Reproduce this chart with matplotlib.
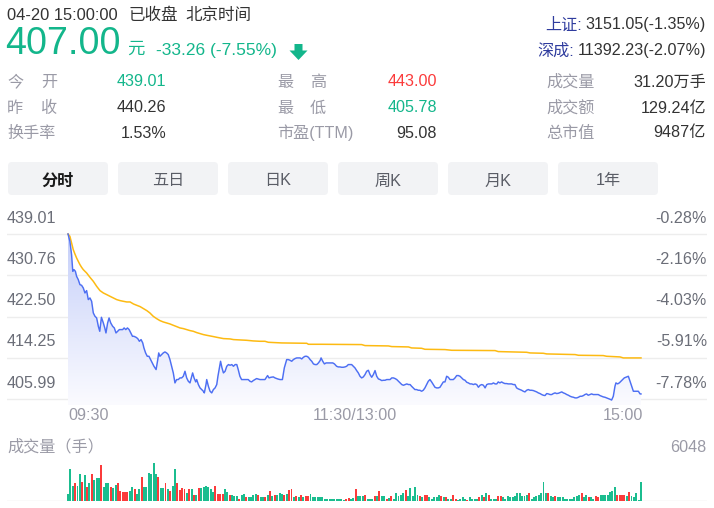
import numpy as np
import matplotlib
matplotlib.use('Agg')
import matplotlib.pyplot as plt
from matplotlib.patches import FancyBboxPatch, Polygon, PathPatch
from matplotlib.path import Path
from matplotlib.transforms import blended_transform_factory
from matplotlib.colors import LinearSegmentedColormap

plt.rcParams['font.family'] = ['Liberation Sans', 'Noto Sans CJK SC', 'DejaVu Sans']

# ---------------- data ----------------
prev_close = 440.26
last_price = '407.00'
change_text = '-33.26 (-7.55%)'
header_time = '04-20 15:00:00'
header_state = '已收盘'
header_zone = '北京时间'
index_names = ['上证:', '深成:']
index_values = ['3151.05(-1.35%)', '11392.23(-2.07%)']
left_labels = [('今', '开'), ('昨', '收'), ('换手率',)]
left_values = ['439.01', '440.26', '1.53%']
mid_labels = [('最', '高'), ('最', '低'), ('市盈(TTM)',)]
mid_values = ['443.00', '405.78', '95.08']
right_labels = ['成交量', '成交额', '总市值']
right_values = ['31.20万手', '129.24亿', '9487亿']
buttons = ['分时', '五日', '日K', '周K', '月K', '1年']

price_ticks = [439.01, 430.76, 422.50, 414.25, 405.99]
time_labels = ['09:30', '11:30/13:00', '15:00']
time_label_minutes = [0, 120, 240]
volume_title = '成交量（手）'
volume_max = 6048

price_minutes = [
    0, 0.8, 1.5, 2.0, 2.5, 3.1, 3.6, 4.3, 5.0, 5.7,
    6.4, 7.1, 7.8, 8.5, 9.2, 9.9, 10.6, 11.3, 12.0, 12.7,
    13.3, 14.0, 14.8, 15.4, 15.9, 16.6, 17.2, 17.9, 18.7, 19.4,
    20.1, 20.8, 21.5, 22.2, 22.9, 23.5, 24.2, 24.9, 25.6, 26.3,
    27.0, 27.6, 28.5, 29.2, 29.9, 30.6, 31.3, 31.8, 32.5, 33.2,
    33.9, 34.6, 35.3, 36.0, 36.9, 37.6, 38.0, 38.5, 39.2, 39.9,
    40.6, 41.3, 42.0, 42.7, 43.4, 44.1, 44.8, 45.5, 46.2, 46.9,
    47.6, 48.3, 49.0, 49.7, 50.4, 51.1, 51.8, 52.2, 52.8, 53.5,
    53.9, 54.6, 55.3, 56.0, 56.7, 57.1, 57.8, 58.1, 58.8, 59.5,
    60.2, 60.9, 61.6, 62.3, 62.8, 63.4, 63.9, 64.5, 65.1, 65.8,
    66.5, 67.2, 67.9, 68.6, 69.3, 70.0, 70.7, 71.3, 72.0, 72.7,
    74.1, 75.5, 76.2, 76.9, 77.6, 78.3, 79.0, 80.4,
    81.1, 82.5, 83.6, 84.2, 85.0, 86.0, 86.7, 87.8, 88.8, 89.8,
    90.6, 91.6, 92.3, 93.0, 93.7, 94.4, 95.1, 95.8, 96.5, 97.2,
    97.9, 98.6, 99.3, 100.0, 100.7, 101.4, 102.1, 102.8, 103.5, 104.2,
    104.9, 105.6, 106.0, 106.7, 107.4, 108.1, 108.8, 109.5, 110.2, 110.9,
    111.6, 112.5, 113.2, 113.9, 114.6, 115.3, 116.0, 116.7, 117.4, 118.1,
    118.8, 119.5, 120.2, 120.9, 121.6, 122.3, 123.0, 123.7, 124.4, 125.1,
    125.8, 126.5, 127.2, 127.9, 128.6, 129.3, 130.0, 130.7, 131.4, 132.1,
    132.8, 133.5, 134.2, 134.9, 135.6, 136.3, 137.0, 137.7, 138.4, 139.1,
    139.8, 140.5, 141.2, 141.9, 142.6, 143.3, 143.9, 144.6, 145.3, 146.0,
    146.7, 147.4, 148.1, 148.8, 149.5, 150.2, 150.9, 151.6, 152.3, 153.0,
    153.7, 154.4, 155.1, 155.8, 156.5, 157.2, 157.9, 158.6, 159.3, 160.0,
    160.7, 161.4,
    162.1, 162.8, 163.5, 164.2, 164.9, 165.6, 166.3, 167.0, 167.7, 168.4,
    169.1, 169.8, 170.5, 171.2, 171.9, 172.6, 173.3, 174.0, 174.7, 175.4,
    176.1, 176.8, 177.5, 178.2, 178.9, 179.6, 180.2, 180.9, 181.6, 182.3,
    183.0, 183.7, 184.4, 185.1, 185.8, 186.5, 187.2, 187.9, 188.6, 189.3,
    190.0, 190.7, 191.4, 192.1, 192.8, 193.5, 194.2, 194.9, 195.6, 196.3,
    197.0, 197.7, 198.4, 199.1, 199.8, 200.5, 201.2, 201.9, 202.6, 203.3,
    204.0, 204.7, 205.4, 206.1, 206.8, 207.5, 208.2, 208.9, 209.6, 210.3,
    211.0, 211.7, 212.4, 213.1, 213.8, 214.5, 215.2, 215.9, 216.5, 217.2,
    217.9, 218.6, 219.3, 220.0, 220.7, 221.4, 222.1, 222.8, 223.5, 224.2,
    224.9, 225.6, 226.3, 227.0, 227.7, 228.4, 229.1, 229.5, 230.2, 230.9,
    231.6, 232.3, 233.0, 234.0, 234.7, 235.4, 236.1, 236.8, 237.5, 238.2,
    238.9, 239.6, 240.0]

price_values = [
    439.01, 437.54, 434.88, 431.54, 431.88, 431.54, 430.54, 429.88, 428.88, 428.74,
    428.21, 427.21, 427.68, 425.88, 426.21, 425.54, 423.21, 422.54, 422.21, 420.54,
    419.54, 422.34, 421.21, 420.21, 419.21, 421.21, 422.21, 421.21, 420.54, 420.21,
    419.21, 419.54, 419.88, 419.88, 419.88, 420.21, 419.88, 420.21, 419.88, 419.21,
    418.54, 418.54, 418.34, 418.08, 417.54, 417.88, 417.21, 416.21, 415.21, 414.54,
    414.54, 413.88, 413.21, 412.54, 411.88, 413.88, 415.21, 414.54, 414.88, 415.21,
    415.41, 415.21, 414.88, 413.88, 412.54, 411.21, 409.21, 409.88, 409.88, 410.21,
    410.21, 410.54, 411.54, 410.21, 409.54, 409.21, 410.54, 411.21, 410.21, 409.41,
    409.88, 408.88, 408.21, 407.88, 407.54, 407.21, 408.88, 409.88, 408.54, 407.54,
    407.21, 407.88, 408.21, 408.88, 410.54, 412.21, 413.54, 412.21, 411.21, 411.54,
    412.54, 412.88, 412.74, 412.88, 412.54, 412.88, 412.88, 411.88, 410.54, 409.88,
    409.88, 409.88, 409.54, 409.41, 409.68, 409.88, 410.08, 409.88,
    409.88, 409.88, 410.68, 410.21, 410.34, 410.41, 410.21, 410.01, 409.88, 409.88,
    412.21, 413.88, 413.88, 413.74, 413.54, 413.88, 414.08, 414.21, 414.21, 414.21,
    414.01, 414.34, 414.54, 414.54, 414.34, 413.88, 413.54, 413.01, 412.88, 412.88,
    413.21, 413.68, 414.21, 413.54, 413.01, 413.21, 413.21, 413.21, 413.21, 413.21,
    413.01, 412.54, 412.41, 412.41, 412.34, 412.34, 412.41, 412.54, 412.88, 412.88,
    412.88, 412.54, 412.21, 411.68, 411.21, 410.54, 410.21, 410.41, 410.88, 411.54,
    411.74, 410.88, 410.34, 410.88, 411.68, 410.54, 410.01, 409.88, 409.68, 409.74,
    409.74, 409.88, 409.88, 409.88, 410.21, 410.21, 410.08, 409.88, 409.54, 409.21,
    408.88, 408.74, 408.88, 409.01, 408.88, 408.88, 408.54, 408.21, 407.88, 407.88,
    407.74, 407.74, 407.54, 407.74, 408.21, 408.88, 409.54, 409.88, 409.41, 408.88,
    408.34, 408.21, 408.21, 408.34, 408.88, 409.41, 409.41, 410.54, 410.34, 409.88,
    409.88, 409.88,
    410.21, 410.68, 410.68, 410.54, 410.21, 409.88, 409.74, 409.34, 409.21, 409.01,
    409.01, 408.88, 409.01, 408.88, 408.34, 408.74, 408.88, 408.74, 408.21, 408.88,
    409.01, 409.01, 409.01, 409.21, 409.01, 409.01, 409.41, 409.21, 409.41, 409.21,
    409.08, 409.08, 409.01, 409.01, 409.01, 408.88, 408.88, 408.21, 408.01, 407.88,
    407.74, 407.54, 407.41, 407.74, 407.88, 407.74, 407.74, 407.68, 407.54, 407.41,
    407.21, 407.08, 406.88, 406.74, 406.68, 407.08, 407.01, 406.88, 406.88, 407.08,
    407.21, 407.08, 407.14, 407.28, 407.41, 407.21, 407.08, 406.88, 406.74, 406.54,
    406.41, 406.34, 406.21, 406.21, 406.34, 406.54, 406.54, 406.68, 406.88, 407.01,
    406.74, 406.88, 407.01, 406.88, 406.88, 406.88, 406.88, 406.68, 406.54, 406.41,
    406.34, 406.21, 406.08, 405.94, 405.78, 406.54, 408.54, 409.21, 409.01, 409.21,
    409.54, 409.88, 410.21, 410.41, 410.54, 409.54, 408.54, 407.54, 407.54, 407.54,
    407.54, 407.01, 407.00]

avg_minutes = [
    0, 0.8, 1.5, 2.2, 2.9, 3.6, 4.3, 5.0, 5.7, 6.4,
    7.1, 7.8, 9.2, 10.6, 12.0, 13.4, 14.8, 16.2, 17.6, 19.0,
    20.4, 21.8, 23.2, 24.6, 26.0, 27.4, 28.8, 30.2, 31.6, 33.0,
    34.3, 35.7, 37.1, 38.5, 39.9, 41.3, 42.7, 44.1, 45.5, 46.9,
    48.3, 49.7, 51.1, 52.5, 53.9, 55.3, 56.7, 58.1, 59.5, 60.9,
    62.3, 63.7, 65.1, 67.9, 69.3, 72.0, 74.8, 77.6, 80.4, 82.5,
    83.9, 89.5, 100.0, 100.7, 106.3, 123.0, 124.4, 134.2, 135.6, 142.6,
    143.9, 148.1, 149.5, 157.9, 160.7, 178.9, 180.2, 192.1, 193.5, 199.1,
    200.5, 212.4, 213.8, 224.2, 225.6, 231.2, 232.6, 240.0]

avg_values = [
    439.01, 438.54, 437.21, 435.88, 435.01, 434.21, 433.54, 432.88, 432.34, 431.88,
    431.54, 431.21, 430.34, 429.54, 428.54, 427.68, 427.21, 426.88, 426.54, 426.21,
    425.88, 425.68, 425.54, 425.41, 425.41, 425.01, 424.74, 424.48, 424.08, 423.68,
    423.21, 422.54, 422.08, 421.68, 421.41, 421.21, 421.01, 420.74, 420.48, 420.21,
    420.08, 419.88, 419.68, 419.54, 419.28, 419.08, 418.88, 418.74, 418.61, 418.48,
    418.34, 418.21, 418.08, 418.01, 417.88, 417.81, 417.74, 417.61, 417.54, 417.54,
    417.34, 417.21, 417.14, 416.94, 416.94, 416.88, 416.68, 416.61, 416.48, 416.41,
    416.21, 416.14, 415.94, 415.88, 415.74, 415.68, 415.48, 415.34, 415.21, 415.14,
    415.01, 414.88, 414.74, 414.68, 414.54, 414.41, 414.21, 414.21]

volumes = [
    1175, 5085, 2355, 2835, 2355, 4225, 3050, 4120, 2245, 2835,
    4225, 3265, 3585, 3640, 5670, 2245, 2835, 2835, 2245, 2085,
    2515, 2835, 1660, 1445, 1445, 1445, 1660, 2195, 1870, 1175,
    1870, 3800, 2195, 2195, 4440, 4280, 6048, 4280, 3800, 2035,
    2035, 2835, 1870, 1660, 2355, 5085, 2835, 1765, 2035, 1870,
    1340, 1870, 1870, 1015, 1015, 2035, 2035, 2195, 2410, 2195,
    1870, 1445, 2410, 1175, 1175, 1175, 1870, 1445, 910, 1015,
    800, 800, 375, 1015, 1175, 640, 590, 590, 1015, 1175,
    1015, 590, 590, 695, 1015, 1550, 800, 1015, 1015, 1340,
    1125, 1015, 1125, 1765, 1980, 695, 800, 590, 910, 590,
    800, 800, 1125, 590, 590, 590, 590, 590, 375, 375,
    375, 375, 375, 375, 375, 375, 160, 375, 535, 375,
    480,
    1870, 800, 800, 800, 1015, 375, 375, 375, 800, 800,
    1660, 800, 800, 375, 480, 800, 375, 1230, 800, 1015,
    1230, 1765, 800, 2035, 800, 2195, 1015, 800, 590, 1015,
    1015, 590, 375, 590, 590, 1015, 800, 590, 590, 375,
    375, 1015, 375, 160, 375, 590, 375, 160, 590, 375,
    375, 375, 590, 1015, 590, 1230, 1015, 375, 375, 375,
    800, 800, 590, 375, 800, 590, 590, 800, 1230, 1230,
    800, 800, 1015, 1230, 375, 590, 800, 1015, 1230, 3050,
    1230, 1230, 800, 590, 800, 590, 590, 590, 375, 375,
    375, 375, 590, 800, 1015, 1230, 590, 1015, 590, 590,
    375, 800, 590, 1015, 1015, 1015, 1015, 1445, 1660, 2195,
    1015, 1015, 1015, 1015, 800, 1445, 800, 590, 1230, 160,
    3050]

volume_dirs = (
    "gggrggrgrg" "rgggrgggrg" "grrrrrggrg" "grggggggrg" "grgrggrrrr"
    "grgrgrgggg" "ggrrrrggrg" "ggrggrgggg" "rggrgrgrgg" "grgrrgrgrg"
    "rrgggggggg" "gggggggrrg" "g"
    "rgggrgggrg" "rggrgrgggg" "grgggggrgr" "rgggggrgrg" "grrggggrgg"
    "ggrgrgrggg" "rrgggggggg" "gggrgggggg" "grggrggggg" "gggggrggrg"
    "grrggggggg" "rrrrgrgggg" "g")

# ---------------- style ----------------
W, H = 714, 508
TEAL = '#13b68b'
RED = '#fb3b3b'
BAR_GREEN = '#1bbd8f'
DARK = '#333333'
GRAY = '#9a9aa6'
AXGRAY = '#6b6e78'
BLUE = '#4d6ff3'
YELLOW = '#fdba12'
GRID = '#ededed'
FS = 11.6

fig = plt.figure(figsize=(W / 100, H / 100), dpi=100)
bg = fig.add_axes([0, 0, 1, 1])
bg.set_xlim(0, W)
bg.set_ylim(H, 0)
bg.axis('off')


def px_axes(x0, y0, x1, y1):
    a = fig.add_axes([x0 / W, 1 - y1 / H, (x1 - x0) / W, (y1 - y0) / H])
    a.patch.set_alpha(0)
    a.axis('off')
    return a


# ---------------- header ----------------
bg.text(7, 15, header_time, fontsize=11.9, color=DARK, va='center')
bg.text(128, 15, header_state, fontsize=11.9, color=DARK, va='center')
bg.text(185, 15, header_zone, fontsize=11.9, color=DARK, va='center')

bg.text(5, 44, last_price, fontsize=27.2, color=TEAL, va='center')
bg.text(127, 49, '元', fontsize=12.5, color=TEAL, va='center')
bg.text(156, 50, change_text, fontsize=12.5, color=TEAL, va='center')
arrow = Polygon([(294.5, 44), (302.5, 44), (302.5, 50.5), (307.5, 50.5), (298.5, 60),
                 (289.5, 50.5), (294.5, 50.5)], closed=True, color=TEAL, lw=0)
bg.add_patch(arrow)

idx_x = [545, 537]
for i, (nm, val) in enumerate(zip(index_names, index_values)):
    y = 25 + 26 * i
    bg.text(706, y, val, fontsize=FS, color=DARK, va='center', ha='right')
    bg.text(idx_x[i], y, nm, fontsize=FS, color='#2f3c9e', va='center', ha='left')

row_y = [82, 108, 133]
for i in range(3):
    y = row_y[i]
    lab = left_labels[i]
    if len(lab) == 2:
        bg.text(7, y, lab[0], fontsize=FS, color=GRAY, va='center')
        bg.text(41, y, lab[1], fontsize=FS, color=GRAY, va='center')
    else:
        bg.text(7, y, lab[0], fontsize=FS, color=GRAY, va='center')
    bg.text(166, y, left_values[i], fontsize=FS,
            color=TEAL if i == 0 else DARK, va='center', ha='right')

    lab = mid_labels[i]
    if len(lab) == 2:
        bg.text(277, y, lab[0], fontsize=FS, color=GRAY, va='center')
        bg.text(310, y, lab[1], fontsize=FS, color=GRAY, va='center')
    else:
        bg.text(277, y, lab[0], fontsize=FS, color=GRAY, va='center')
    mcol = [RED, TEAL, DARK][i]
    bg.text(437, y, mid_values[i], fontsize=FS, color=mcol, va='center', ha='right')

    bg.text(546, y, right_labels[i], fontsize=FS, color=GRAY, va='center')
    bg.text(706, y, right_values[i], fontsize=FS, color=DARK, va='center', ha='right')

# ---------------- buttons ----------------
for i, b in enumerate(buttons):
    x0 = 8 + 110 * i
    box = FancyBboxPatch((x0 + 4, 166), 100 - 8, 33 - 8,
                         boxstyle='round,pad=4', fc='#f2f3f5', ec='none')
    bg.add_patch(box)
    if i == 0:
        bg.text(x0 + 50, 181, b, fontsize=FS, color='#1a1a1a', fontweight='bold',
                ha='center', va='center')
    else:
        bg.text(x0 + 50, 181, b, fontsize=FS, color='#5a5d66', ha='center', va='center')

# ---------------- price chart ----------------
px_per_min = (641 - 68) / 240.0
px_per_price = (399 - 234) / (price_ticks[0] - price_ticks[-1])
x_lo = (7 - 68) / px_per_min
x_hi = (707 - 68) / px_per_min
y_top = price_ticks[0] + (234 - 228) / px_per_price
y_bot = price_ticks[-1] - (405 - 399) / px_per_price

ax = px_axes(7, 228, 707, 405)
ax.set_xlim(x_lo, x_hi)
ax.set_ylim(y_bot, y_top)
for t in price_ticks:
    ax.axhline(t, color=GRID, lw=1.0, zorder=0)

lab_tr = blended_transform_factory(bg.transData, ax.transData)
for t in price_ticks:
    pct = (t - prev_close) / prev_close * 100
    ax.annotate(f'{t:.2f}', xy=(7, t), xycoords=lab_tr, xytext=(0, 11.5),
                textcoords='offset points', fontsize=FS, color=AXGRAY,
                ha='left', va='center', annotation_clip=False)
    ax.annotate(f'{pct:.2f}%', xy=(707, t), xycoords=lab_tr, xytext=(0, 11.5),
                textcoords='offset points', fontsize=FS, color=AXGRAY,
                ha='right', va='center', annotation_clip=False)

# gradient fill under price line
verts = [(price_minutes[0], y_bot)] + list(zip(price_minutes, price_values)) + \
        [(price_minutes[-1], y_bot), (price_minutes[0], y_bot)]
clip = PathPatch(Path(verts), transform=ax.transData, fc='none', ec='none')
ax.add_patch(clip)
cmap = LinearSegmentedColormap.from_list('g', ['#fbfbff', '#c5cff9'])
grad = np.linspace(1, 0, 256).reshape(-1, 1)
im = ax.imshow(grad, extent=[0, 240, y_bot, price_ticks[0]], aspect='auto',
               cmap=cmap, origin='upper', zorder=1, interpolation='bilinear')
im.set_clip_path(clip)
ax.set_xlim(x_lo, x_hi)
ax.set_ylim(y_bot, y_top)

ax.plot(avg_minutes, avg_values, color=YELLOW, lw=1.1, zorder=3)
ax.plot(price_minutes, price_values, color=BLUE, lw=1.05, zorder=4)

# time labels
ha_list = ['left', 'center', 'right']
for lbl, m, ha in zip(time_labels, time_label_minutes, ha_list):
    xx = 68 + m * px_per_min
    if ha == 'right':
        xx += 2
    bg.text(xx, 416, lbl, fontsize=FS, color=GRAY, ha=ha, va='center')

bg.text(7, 447, volume_title, fontsize=FS, color=GRAY, va='center')
bg.text(706, 447, str(volume_max), fontsize=FS, color=GRAY, va='center', ha='right')

# ---------------- volume chart ----------------
vax = px_axes(7, 463, 707, 501)
vax.set_xlim(x_lo, x_hi)
vax.set_ylim(0, volume_max)
n = len(volumes)
vx = np.arange(n) * 240.0 / (n - 1)
vcol = [RED if d == 'r' else BAR_GREEN for d in volume_dirs]
vax.bar(vx, volumes, width=0.82, color=vcol, linewidth=0, zorder=2)
vax.axhline(0, color='#e6e6e6', lw=1.0, zorder=1)

fig.savefig('out.png', dpi=100)
